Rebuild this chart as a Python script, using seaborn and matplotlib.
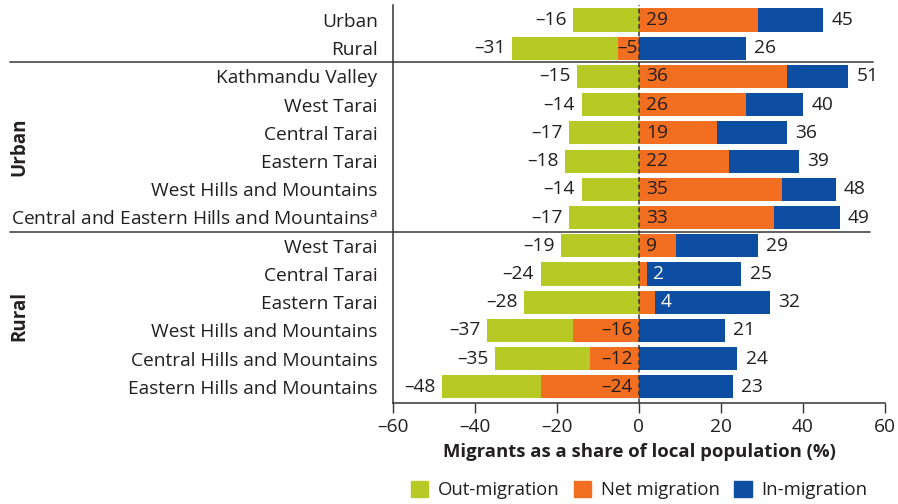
import matplotlib
matplotlib.use("Agg")
import matplotlib.pyplot as plt
import matplotlib.transforms as mtransforms
from matplotlib.patches import Patch
import seaborn as sns
import pandas as pd

# Data
labels = ["Urban", "Rural",
          "Kathmandu Valley", "West Tarai", "Central Tarai", "Eastern Tarai",
          "West Hills and Mountains", "Central and Eastern Hills and Mountains$^{\\mathrm{a}}$",
          "West Tarai", "Central Tarai", "Eastern Tarai",
          "West Hills and Mountains", "Central Hills and Mountains", "Eastern Hills and Mountains"]
out_migration = [-16, -31, -15, -14, -17, -18, -14, -17, -19, -24, -28, -37, -35, -48]
in_migration = [45, 26, 51, 40, 36, 39, 48, 49, 29, 25, 32, 21, 24, 23]
net_migration = [29, -5, 36, 26, 19, 22, 35, 33, 9, 2, 4, -16, -12, -24]

green = "#B7C924"
orange = "#F26F21"
blue = "#0D4EA2"
txt = "#231F20"

df = pd.DataFrame({
    "key": [f"r{i}" for i in range(len(labels))],
    "out": out_migration,
    "in": in_migration,
    "net": net_migration,
})

sns.set_theme(style="white")
plt.rcParams["font.family"] = ["Open Sans", "DejaVu Sans"]
plt.rcParams["mathtext.fontset"] = "custom"
plt.rcParams["mathtext.rm"] = "Open Sans"
plt.rcParams["text.color"] = txt

fig = plt.figure(figsize=(8.98, 5.04), dpi=100)
ax = fig.add_axes([0.4376, 0.2004, 0.5479, 0.7896])

bw = 0.82
sns.barplot(data=df, x="out", y="key", color=green, width=bw, saturation=1, ax=ax)
sns.barplot(data=df, x="in", y="key", color=blue, width=bw, saturation=1, ax=ax)
sns.barplot(data=df, x="net", y="key", color=orange, width=bw, saturation=1, ax=ax)
for p in ax.patches:
    p.set_linewidth(0)

ax.axvline(0, color="#333333", lw=1.1, ls=(0, (3, 2)), zorder=5)

fs = 13.8
for i, (o, n, inn) in enumerate(zip(out_migration, net_migration, in_migration)):
    ax.text(o - 1.6, i, f"\u2013{abs(o)}", ha="right", va="center", fontsize=fs, color=txt)
    ax.text(inn + 2.0, i, f"{inn}", ha="left", va="center", fontsize=fs, color=txt)
    if n < 0:
        xn = -0.4 if abs(n) < 10 else -1.6
        ax.text(xn, i, f"\u2013{abs(n)}", ha="right", va="center", fontsize=fs, color=txt, zorder=4)
    elif n < 5:
        ax.text(n + 1.3, i, f"{n}", ha="left", va="center", fontsize=fs, color="white", zorder=6)
    else:
        ax.text(1.8, i, f"{n}", ha="left", va="center", fontsize=fs, color=txt, zorder=6)

ax.set_xlim(-60, 60)
ax.set_ylim(13.57, -0.53)
ax.set_xticks([-60, -40, -20, 0, 20, 40, 60])
ax.set_xticklabels(["\u201360", "\u201340", "\u201320", "0", "20", "40", "60"])
ax.set_yticks(range(len(labels)))
ax.set_yticklabels(labels)
ax.tick_params(axis="y", length=0, pad=11, labelsize=fs, labelcolor=txt)
ax.tick_params(axis="x", direction="out", length=7, width=1, color="#333333",
               pad=4, labelsize=fs, labelcolor=txt, bottom=True)
ax.set_xlabel("Migrants as a share of local population (%)", fontsize=13.3,
              fontweight="bold", color=txt, labelpad=5)
ax.set_ylabel("")

sns.despine(ax=ax, top=True, right=True)
for s in ["left", "bottom"]:
    ax.spines[s].set_color("#333333")
    ax.spines[s].set_linewidth(1.1)

# group separators
for yy, x1 in [(1.5, 0.976), (7.5, 0.97)]:
    ax.plot([-0.778, x1], [yy, yy], transform=ax.get_yaxis_transform(),
            color="#555555", lw=1.3, clip_on=False)

trans = mtransforms.blended_transform_factory(fig.transFigure, ax.transData)
ax.text(0.022, 4.5, "Urban", rotation=90, ha="center", va="center",
        fontsize=13.5, fontweight="bold", transform=trans, color=txt)
ax.text(0.022, 10.5, "Rural", rotation=90, ha="center", va="center",
        fontsize=13.5, fontweight="bold", transform=trans, color=txt)

handles = [Patch(color=green, label="Out-migration"),
           Patch(color=orange, label="Net migration"),
           Patch(color=blue, label="In-migration")]
fig.legend(handles=handles, loc="center", bbox_to_anchor=(0.7116, 0.028), ncol=3,
           frameon=False, fontsize=13.3, handlelength=0.95, handleheight=0.95,
           handletextpad=0.5, columnspacing=0.8)

fig.savefig("out.png", dpi=100)
